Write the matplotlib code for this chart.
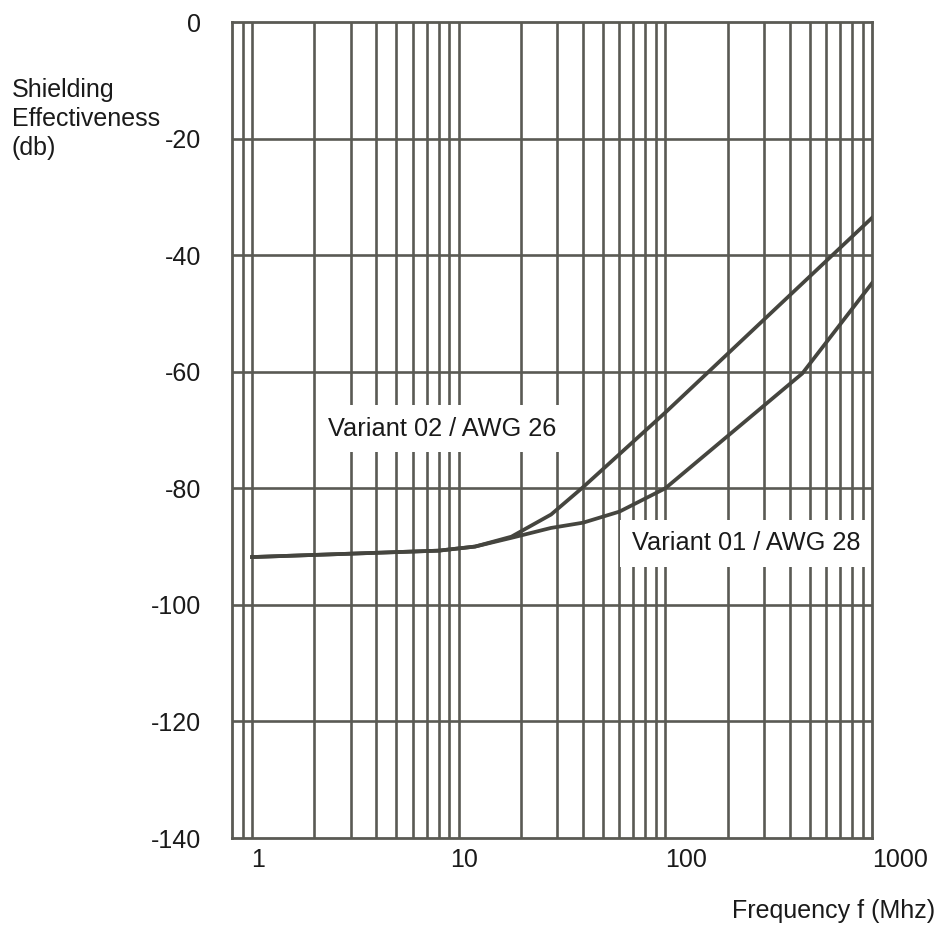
import numpy as np
import matplotlib.pyplot as plt
from matplotlib.transforms import ScaledTranslation

plt.rcParams['font.family'] = ['Liberation Sans', 'DejaVu Sans']
plt.rcParams['axes.unicode_minus'] = False

# Data (frequency in MHz, shielding in dB)
freq_v02 = [1, 8, 12, 18, 28, 40, 100, 1000]
se_v02 = [-91.8, -90.7, -90.0, -88.3, -84.5, -79.8, -67.0, -33.6]

freq_v01 = [1, 8, 12, 18, 28, 40, 60, 100, 460, 1000]
se_v01 = [-91.8, -90.7, -90.0, -88.5, -86.8, -85.9, -84.0, -80.0, -60.3, -44.8]

x_ticks = [1, 10, 100, 1000]
x_labels = ['1', '10', '100', '1000']
y_ticks = [0, -20, -40, -60, -80, -100, -120, -140]

line_col = '#45453f'
grid_col = '#5a5a54'
text_col = '#1a1a1a'

fig = plt.figure(figsize=(9.37, 9.26), dpi=100)
ax = fig.add_axes([232 / 937, 88 / 926, 640 / 937, 816 / 926])

ax.set_xscale('log')
ax.set_xlim(0.8, 1000)
ax.set_ylim(-140, 0)

# log grid: 0.9, 1..9, 10..90, 100..900
xgrid = [m * 10.0 ** d for d in range(-1, 3) for m in range(1, 10)]
xgrid = [g for g in xgrid if 0.8 < g < 1000]
for g in xgrid:
    ax.axvline(g, color=grid_col, lw=1.9, zorder=1)
for t in y_ticks[1:-1]:
    ax.axhline(t, color=grid_col, lw=1.9, zorder=1)

for s in ax.spines.values():
    s.set_color(grid_col)
    s.set_linewidth(2.0)

ax.plot(freq_v02, se_v02, color=line_col, lw=2.7, zorder=3)
ax.plot(freq_v01, se_v01, color=line_col, lw=2.7, zorder=3)

box = dict(boxstyle='square,pad=0.45', fc='white', ec='none')
ax.text(8.3, -69.8, 'Variant 02 / AWG 26', fontsize=18.3, ha='center', va='center',
        color=text_col, bbox=box, zorder=2)
ax.text(246, -89.4, 'Variant 01 / AWG 28', fontsize=18.3, ha='center', va='center',
        color=text_col, bbox=box, zorder=2)

ax.set_xticks(x_ticks)
ax.set_xticklabels(x_labels)
ax.xaxis.set_minor_locator(plt.NullLocator())
ax.set_yticks(y_ticks)
ax.tick_params(axis='both', length=0, labelsize=18, colors=text_col)
ax.tick_params(axis='x', pad=7)
ax.tick_params(axis='y', pad=22)

# the printed labels sit to the right of their grid lines
shifts = [6, 5, 21, 28]
for lab, dx in zip(ax.get_xticklabels(), shifts):
    lab.set_transform(lab.get_transform() + ScaledTranslation(dx / 100, 0, fig.dpi_scale_trans))

fig.text(12 / 937, 1 - 119 / 926, 'Shielding\nEffectiveness\n(db)', fontsize=18,
         ha='left', va='center', linespacing=1.25, color=text_col)
fig.text(935 / 937, 1 - 911 / 926, 'Frequency f (Mhz)', fontsize=18,
         ha='right', va='center', color=text_col)

fig.savefig('out.png', dpi=100, facecolor='white')
